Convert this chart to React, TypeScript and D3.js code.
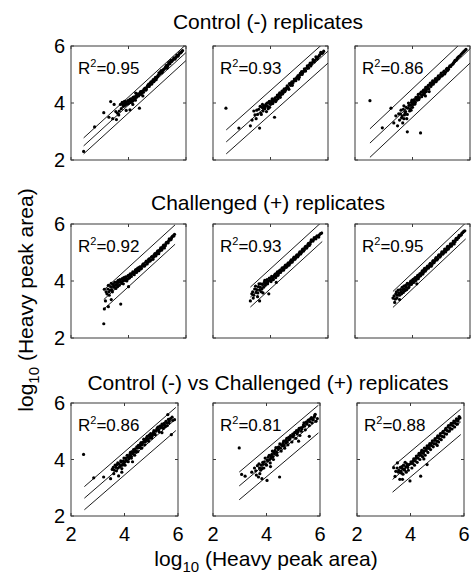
import * as d3 from 'd3'

// Replicate scatter data, log10 heavy peak area (x = replicate A, y = replicate B)
const ctrl1 = [
  [2.44, 2.30], [2.82, 3.16], [3.14, 3.66], [3.32, 3.50], [3.38, 4.05], [3.45, 3.45], [3.50, 3.95],
  [3.58, 3.42], [3.62, 3.64], [3.68, 3.72], [3.72, 3.95], [3.75, 3.80], [3.78, 4.02], [3.82, 3.88],
  [3.85, 3.98], [3.88, 3.92], [3.90, 4.05], [3.92, 3.74], [3.95, 3.96], [3.98, 4.08], [4.00, 3.98],
  [4.03, 4.10], [4.05, 3.76], [4.08, 4.02], [4.10, 4.15], [4.14, 4.06], [4.18, 4.12], [4.20, 4.22],
  [4.24, 4.10], [4.28, 4.20], [4.30, 4.28], [4.35, 4.25], [4.38, 3.82], [4.40, 4.35], [4.44, 4.30],
  [4.48, 4.42], [4.52, 4.38], [4.55, 4.50], [4.60, 4.45], [4.64, 4.55], [4.68, 4.62], [4.72, 4.58],
  [4.76, 4.70], [4.80, 4.66], [4.84, 4.78], [4.88, 4.75], [4.92, 4.85], [4.96, 4.82], [5.00, 4.92],
  [5.04, 4.98], [5.08, 5.02], [5.12, 5.10], [5.16, 5.06], [5.20, 5.15], [5.25, 5.20], [5.30, 5.28],
  [5.34, 5.22], [5.38, 5.35], [5.42, 5.38], [5.46, 5.44], [5.50, 5.46], [5.55, 5.52], [5.60, 5.56],
  [5.65, 5.60], [5.70, 5.66], [5.75, 5.70], [5.82, 5.76], [5.88, 5.84],
]
const ctrl1b = [
  [3.80, 3.95], [3.86, 4.06], [3.93, 4.00], [4.01, 4.06], [4.06, 4.14], [4.12, 4.08], [4.16, 4.20],
  [4.22, 4.16], [4.27, 4.26], [4.33, 4.32], [4.37, 4.28], [4.42, 4.40], [4.47, 4.36], [4.53, 4.46],
  [4.58, 4.52], [4.62, 4.48], [4.66, 4.60], [4.70, 4.66], [4.74, 4.64], [4.78, 4.74], [4.82, 4.70],
  [4.86, 4.82], [4.90, 4.78], [4.94, 4.90], [4.98, 4.88], [5.02, 4.95], [5.06, 5.06], [5.10, 5.04],
  [5.14, 5.14], [5.18, 5.10], [5.22, 5.18], [5.28, 5.24], [5.32, 5.32], [5.36, 5.28], [5.40, 5.42],
  [5.44, 5.38], [5.48, 5.50], [5.52, 5.48], [5.58, 5.58], [5.62, 5.54], [5.68, 5.68], [5.72, 5.64],
  [5.78, 5.76], [5.85, 5.80], [3.66, 3.58], [3.56, 3.70], [4.15, 3.95], [4.50, 4.25], [4.25, 4.35],
]
const ctrl2 = [
  [2.45, 3.82], [2.90, 3.12], [3.30, 3.20], [3.36, 3.40], [3.42, 3.72], [3.50, 3.45], [3.55, 3.60],
  [3.59, 3.78], [3.62, 3.12], [3.66, 3.65], [3.70, 3.85], [3.74, 3.72], [3.78, 3.90], [3.80, 3.80],
  [3.84, 3.95], [3.86, 3.70], [3.90, 3.88], [3.94, 4.02], [3.97, 3.85], [4.00, 3.95], [4.04, 4.08],
  [4.08, 3.98], [4.12, 4.12], [4.14, 3.50], [4.18, 4.05], [4.22, 4.22], [4.26, 4.15], [4.30, 4.30],
  [4.34, 4.20], [4.38, 4.36], [4.42, 4.32], [4.46, 4.45], [4.50, 4.40], [4.55, 4.52], [4.60, 4.56],
  [4.64, 4.48], [4.68, 4.64], [4.72, 4.70], [4.76, 4.62], [4.80, 4.76], [4.85, 4.80], [4.90, 4.86],
  [4.94, 4.92], [4.98, 4.84], [5.02, 4.98], [5.06, 5.05], [5.10, 5.00], [5.15, 5.12], [5.20, 5.15],
  [5.25, 5.22], [5.30, 5.26], [5.35, 5.34], [5.40, 5.30], [5.45, 5.42], [5.50, 5.48], [5.55, 5.50],
  [5.60, 5.58], [5.66, 5.62], [5.72, 5.70], [5.78, 5.74], [5.85, 5.82],
]
const ctrl2b = [
  [3.46, 3.58], [3.52, 3.75], [3.64, 3.88], [3.68, 3.60], [3.72, 3.95], [3.76, 3.82], [3.82, 3.88],
  [3.88, 4.00], [3.92, 3.80], [3.96, 4.06], [4.02, 4.00], [4.06, 4.15], [4.10, 4.05], [4.16, 4.18],
  [4.20, 4.10], [4.24, 4.28], [4.28, 4.22], [4.32, 4.36], [4.36, 4.28], [4.40, 4.42], [4.44, 4.36],
  [4.48, 4.50], [4.53, 4.46], [4.58, 4.60], [4.62, 4.52], [4.66, 4.68], [4.70, 4.62], [4.74, 4.74],
  [4.78, 4.70], [4.83, 4.84], [4.88, 4.78], [4.92, 4.90], [4.96, 4.96], [5.00, 4.90], [5.04, 5.04],
  [5.08, 5.10], [5.12, 5.06], [5.18, 5.20], [5.22, 5.12], [5.28, 5.30], [5.32, 5.22], [5.38, 5.40],
  [5.42, 5.36], [5.48, 5.52], [5.52, 5.44], [5.58, 5.62], [5.63, 5.55], [5.70, 5.66], [5.75, 5.78],
  [5.82, 5.76],
]
const ctrl3 = [
  [2.52, 4.08], [2.95, 3.13], [3.25, 3.82], [3.35, 3.30], [3.42, 3.55], [3.48, 3.20], [3.52, 3.62],
  [3.55, 3.40], [3.60, 3.75], [3.62, 3.48], [3.66, 3.30], [3.70, 3.90], [3.72, 3.58], [3.76, 3.70],
  [3.80, 3.45], [3.82, 2.99], [3.84, 3.82], [3.86, 4.00], [3.90, 3.72], [3.94, 3.92], [3.98, 4.10],
  [4.00, 3.85], [4.04, 4.05], [4.08, 3.96], [4.12, 4.20], [4.16, 4.10], [4.20, 4.30], [4.24, 4.18],
  [4.28, 2.95], [4.30, 4.38], [4.34, 4.28], [4.38, 4.45], [4.42, 4.36], [4.46, 4.55], [4.50, 4.48],
  [4.55, 4.62], [4.58, 4.40], [4.62, 4.70], [4.66, 4.64], [4.70, 4.78], [4.75, 4.72], [4.80, 4.86],
  [4.85, 4.80], [4.90, 4.95], [4.95, 4.90], [5.00, 5.05], [5.05, 4.98], [5.10, 5.12], [5.15, 5.08],
  [5.20, 5.22], [5.25, 5.18], [5.30, 5.30], [5.36, 5.34], [5.42, 5.40], [5.48, 5.50], [5.55, 5.56],
  [5.62, 5.64], [5.70, 5.72], [5.78, 5.80], [5.86, 5.88],
]
const ctrl3b = [
  [3.58, 3.62], [3.64, 3.55], [3.68, 3.78], [3.74, 3.65], [3.78, 3.85], [3.82, 3.60], [3.88, 3.92],
  [3.92, 3.80], [3.96, 4.02], [4.02, 3.95], [4.06, 4.12], [4.10, 4.02], [4.14, 4.15], [4.18, 4.22],
  [4.22, 4.12], [4.26, 4.32], [4.32, 4.22], [4.36, 4.40], [4.40, 4.30], [4.44, 4.48], [4.48, 4.40],
  [4.52, 4.56], [4.57, 4.50], [4.60, 4.65], [4.64, 4.58], [4.68, 4.72], [4.72, 4.66], [4.78, 4.80],
  [4.82, 4.75], [4.88, 4.90], [4.92, 4.85], [4.98, 5.00], [5.02, 4.95], [5.08, 5.08], [5.12, 5.02],
  [5.18, 5.18], [5.22, 5.14], [5.28, 5.26], [5.33, 5.28], [5.40, 5.36], [5.45, 5.44], [5.52, 5.50],
  [5.58, 5.60], [5.66, 5.66], [5.74, 5.76], [5.82, 5.84], [3.95, 3.75], [4.45, 4.25], [3.70, 3.45],
]
const chal1 = [
  [3.14, 2.50], [3.16, 3.71], [3.16, 3.02], [3.20, 3.30], [3.25, 3.55], [3.30, 3.85], [3.33, 3.50],
  [3.36, 3.68], [3.40, 3.92], [3.44, 3.62], [3.48, 3.80], [3.52, 3.95], [3.56, 3.74], [3.60, 3.88],
  [3.64, 4.02], [3.68, 3.85], [3.73, 3.19], [3.74, 3.98], [3.78, 4.08], [3.82, 3.90], [3.86, 4.05],
  [3.90, 4.15], [3.94, 4.00], [3.98, 4.18], [4.02, 4.10], [4.06, 4.25], [4.10, 4.16], [4.15, 4.32],
  [4.20, 4.22], [4.24, 4.38], [4.28, 4.30], [4.32, 4.45], [4.36, 4.36], [4.40, 4.50], [4.45, 4.44],
  [4.50, 4.58], [4.55, 4.52], [4.60, 4.66], [4.65, 4.60], [4.70, 4.75], [4.75, 4.70], [4.80, 4.84],
  [4.85, 4.76], [4.90, 4.92], [4.95, 4.88], [5.00, 5.02], [5.05, 4.96], [5.10, 5.10], [5.15, 5.08],
  [5.20, 5.22], [5.25, 5.16], [5.30, 5.30], [5.35, 5.36], [5.40, 5.42], [5.45, 5.44], [5.50, 5.52],
  [5.55, 5.58], [5.60, 5.64],
]
const chal1b = [
  [3.22, 3.62], [3.28, 3.72], [3.32, 3.62], [3.38, 3.80], [3.42, 3.70], [3.46, 3.88], [3.50, 3.78],
  [3.54, 3.85], [3.58, 3.96], [3.62, 3.80], [3.66, 3.95], [3.70, 4.05], [3.76, 3.92], [3.80, 4.00],
  [3.84, 4.12], [3.88, 4.02], [3.92, 4.10], [3.96, 4.06], [4.00, 4.20], [4.04, 4.12], [4.08, 4.20],
  [4.12, 4.26], [4.18, 4.28], [4.22, 4.30], [4.26, 4.40], [4.30, 4.36], [4.35, 4.42], [4.38, 4.48],
  [4.42, 4.42], [4.48, 4.52], [4.52, 4.60], [4.58, 4.56], [4.62, 4.70], [4.68, 4.66], [4.72, 4.78],
  [4.78, 4.74], [4.82, 4.86], [4.88, 4.84], [4.92, 4.96], [4.98, 4.94], [5.02, 5.06], [5.08, 5.04],
  [5.12, 5.16], [5.18, 5.14], [5.22, 5.26], [5.28, 5.24], [5.32, 5.36], [5.38, 5.34], [5.42, 5.48],
  [5.48, 5.46], [5.52, 5.56], [5.58, 5.58], [3.30, 3.10], [3.40, 3.35], [4.00, 3.80],
]
const chal2 = [
  [3.30, 3.30], [3.35, 3.55], [3.40, 3.40], [3.45, 3.72], [3.50, 3.60], [3.55, 3.45], [3.58, 3.80],
  [3.62, 3.68], [3.66, 3.90], [3.70, 3.72], [3.74, 3.58], [3.78, 3.95], [3.82, 3.85], [3.86, 4.02],
  [3.90, 3.90], [3.94, 3.55], [3.98, 4.08], [4.02, 3.98], [4.06, 4.12], [4.10, 4.05], [4.14, 4.20],
  [4.18, 4.12], [4.22, 4.28], [4.26, 4.20], [4.30, 4.35], [4.35, 4.30], [4.40, 4.45], [4.45, 4.38],
  [4.50, 4.52], [4.55, 4.48], [4.60, 4.60], [4.65, 4.56], [4.70, 4.70], [4.75, 4.66], [4.80, 4.80],
  [4.85, 4.76], [4.90, 4.88], [4.95, 4.85], [5.00, 4.98], [5.05, 4.95], [5.10, 5.08], [5.15, 5.05],
  [5.20, 5.18], [5.25, 5.15], [5.30, 5.28], [5.35, 5.25], [5.40, 5.38], [5.45, 5.42], [5.50, 5.46],
  [5.55, 5.50], [5.60, 5.55], [5.65, 5.56], [5.70, 5.62], [5.78, 5.68],
]
const chal2b = [
  [3.38, 3.62], [3.42, 3.50], [3.48, 3.82], [3.52, 3.70], [3.56, 3.58], [3.60, 3.90], [3.64, 3.78],
  [3.68, 3.62], [3.72, 3.88], [3.76, 3.78], [3.80, 4.02], [3.84, 3.92], [3.88, 4.05], [3.92, 3.98],
  [3.96, 4.10], [4.00, 4.02], [4.04, 4.16], [4.08, 4.06], [4.12, 4.14], [4.16, 4.24], [4.20, 4.18],
  [4.24, 4.32], [4.28, 4.26], [4.33, 4.38], [4.38, 4.36], [4.42, 4.46], [4.48, 4.44], [4.52, 4.56],
  [4.58, 4.52], [4.62, 4.64], [4.68, 4.62], [4.72, 4.74], [4.78, 4.72], [4.82, 4.84], [4.88, 4.82],
  [4.92, 4.92], [4.98, 4.90], [5.02, 5.02], [5.08, 5.00], [5.12, 5.12], [5.18, 5.10], [5.22, 5.22],
  [5.28, 5.20], [5.32, 5.32], [5.38, 5.30], [5.42, 5.44], [5.48, 5.40], [5.52, 5.52], [5.58, 5.48],
  [5.62, 5.58], [5.68, 5.54], [5.74, 5.66], [3.62, 3.30], [4.20, 3.95],
]
const chal3 = [
  [3.32, 3.40], [3.38, 3.25], [3.42, 3.55], [3.46, 3.40], [3.50, 3.68], [3.55, 3.50], [3.60, 3.62],
  [3.64, 3.78], [3.68, 3.60], [3.72, 3.72], [3.76, 3.85], [3.80, 3.70], [3.84, 3.90], [3.88, 3.80],
  [3.92, 3.95], [3.96, 3.88], [4.00, 4.02], [4.04, 3.95], [4.08, 4.10], [4.12, 4.02], [4.16, 4.15],
  [4.20, 4.08], [4.24, 4.22], [4.28, 4.18], [4.32, 4.30], [4.36, 4.25], [4.40, 4.40], [4.45, 4.35],
  [4.50, 4.48], [4.55, 4.45], [4.60, 4.58], [4.65, 4.52], [4.70, 4.68], [4.75, 4.64], [4.80, 4.78],
  [4.85, 4.74], [4.90, 4.88], [4.95, 4.84], [5.00, 4.96], [5.05, 4.94], [5.10, 5.06], [5.15, 5.02],
  [5.20, 5.16], [5.25, 5.12], [5.30, 5.24], [5.35, 5.22], [5.40, 5.34], [5.45, 5.30], [5.50, 5.44],
  [5.55, 5.46], [5.60, 5.52], [5.65, 5.58], [5.70, 5.62], [5.75, 5.70], [5.82, 5.76],
]
const chal3b = [
  [3.36, 3.48], [3.40, 3.36], [3.44, 3.62], [3.48, 3.50], [3.52, 3.58], [3.58, 3.70], [3.62, 3.55],
  [3.66, 3.70], [3.70, 3.82], [3.74, 3.66], [3.78, 3.78], [3.82, 3.92], [3.86, 3.76], [3.90, 3.88],
  [3.94, 4.00], [3.98, 3.92], [4.02, 4.06], [4.06, 3.98], [4.10, 4.12], [4.14, 4.08], [4.18, 4.20],
  [4.22, 4.14], [4.26, 4.26], [4.30, 4.22], [4.34, 4.36], [4.38, 4.30], [4.42, 4.44], [4.48, 4.40],
  [4.52, 4.52], [4.58, 4.50], [4.62, 4.62], [4.68, 4.58], [4.72, 4.72], [4.78, 4.70], [4.82, 4.82],
  [4.88, 4.78], [4.92, 4.92], [4.98, 4.88], [5.02, 5.02], [5.08, 4.98], [5.12, 5.12], [5.18, 5.08],
  [5.22, 5.22], [5.28, 5.18], [5.32, 5.30], [5.38, 5.28], [5.42, 5.40], [5.48, 5.38], [5.52, 5.50],
  [5.58, 5.52], [5.62, 5.60], [5.68, 5.62], [5.72, 5.68], [5.78, 5.74], [4.15, 3.90], [3.55, 3.35],
]
const vs1 = [
  [2.47, 4.18], [2.85, 3.35], [3.22, 3.38], [3.48, 3.32], [3.54, 3.65], [3.60, 3.50], [3.65, 3.80],
  [3.70, 3.60], [3.75, 3.88], [3.78, 3.42], [3.82, 3.75], [3.86, 3.95], [3.90, 3.68], [3.94, 3.85],
  [3.98, 4.05], [4.02, 3.80], [4.06, 3.98], [4.10, 4.15], [4.14, 3.92], [4.18, 4.10], [4.22, 4.25],
  [4.26, 4.05], [4.30, 4.20], [4.34, 4.35], [4.38, 4.15], [4.42, 4.30], [4.46, 4.45], [4.50, 4.28],
  [4.55, 4.42], [4.60, 4.55], [4.64, 4.40], [4.68, 4.60], [4.72, 4.72], [4.76, 4.52], [4.80, 4.68],
  [4.85, 4.82], [4.90, 4.65], [4.94, 4.80], [4.98, 4.92], [5.02, 4.76], [5.06, 4.90], [5.10, 5.02],
  [5.15, 4.88], [5.20, 5.05], [5.25, 5.15], [5.30, 4.98], [5.35, 5.12], [5.40, 5.25], [5.45, 5.10],
  [5.50, 5.22], [5.55, 5.35], [5.60, 5.20], [5.62, 5.59], [5.66, 5.30], [5.72, 5.45], [5.75, 4.88],
  [5.80, 5.38], [5.87, 5.41],
]
const vs1b = [
  [3.58, 3.72], [3.62, 3.62], [3.68, 3.72], [3.72, 3.82], [3.76, 3.70], [3.80, 3.85], [3.84, 3.78],
  [3.88, 3.92], [3.92, 3.80], [3.96, 3.95], [4.00, 3.90], [4.04, 4.05], [4.08, 3.95], [4.12, 4.08],
  [4.16, 4.02], [4.20, 4.18], [4.24, 4.12], [4.28, 4.28], [4.32, 4.22], [4.36, 4.28], [4.40, 4.38],
  [4.44, 4.26], [4.48, 4.40], [4.52, 4.50], [4.58, 4.48], [4.62, 4.60], [4.66, 4.52], [4.70, 4.62],
  [4.74, 4.70], [4.78, 4.62], [4.82, 4.76], [4.88, 4.72], [4.92, 4.86], [4.96, 4.76], [5.00, 4.88],
  [5.04, 4.84], [5.08, 4.96], [5.12, 4.92], [5.18, 5.00], [5.22, 5.10], [5.28, 5.06], [5.32, 5.18],
  [5.38, 5.16], [5.42, 5.20], [5.48, 5.28], [5.52, 5.16], [5.58, 5.30], [5.64, 5.42], [5.68, 5.36],
  [5.78, 5.50], [4.30, 3.92], [3.90, 3.55], [5.40, 4.95],
]
const vs2 = [
  [2.98, 4.41], [3.07, 3.47], [3.20, 3.41], [3.45, 3.55], [3.55, 3.70], [3.62, 3.45], [3.70, 3.38],
  [3.72, 3.85], [3.78, 3.62], [3.83, 3.32], [3.86, 3.90], [3.90, 3.70], [3.95, 4.05], [4.00, 3.80],
  [4.02, 3.26], [4.05, 3.95], [4.10, 4.15], [4.14, 3.88], [4.18, 4.05], [4.22, 4.30], [4.26, 4.00],
  [4.30, 4.20], [4.35, 4.42], [4.40, 4.15], [4.44, 4.35], [4.49, 3.38], [4.50, 4.55], [4.55, 4.30],
  [4.60, 4.48], [4.64, 4.65], [4.68, 4.40], [4.72, 4.58], [4.76, 4.75], [4.80, 4.52], [4.85, 4.70],
  [4.90, 4.85], [4.95, 4.62], [5.00, 4.80], [5.05, 4.95], [5.10, 4.75], [5.15, 4.90], [5.20, 5.05],
  [5.25, 4.85], [5.30, 5.00], [5.35, 5.15], [5.40, 5.30], [5.45, 5.05], [5.50, 5.25], [5.55, 5.38],
  [5.60, 5.20], [5.65, 5.45], [5.70, 5.30], [5.75, 5.40], [5.80, 5.55], [5.85, 5.35], [5.90, 5.45],
  [5.60, 4.82],
]
const vs2b = [
  [3.60, 3.60], [3.66, 3.78], [3.74, 3.70], [3.80, 3.80], [3.84, 3.68], [3.88, 3.85], [3.92, 3.92],
  [3.98, 3.82], [4.02, 3.98], [4.06, 4.08], [4.12, 4.00], [4.16, 4.12], [4.20, 4.18], [4.24, 4.10],
  [4.28, 4.26], [4.32, 4.32], [4.38, 4.25], [4.42, 4.42], [4.46, 4.45], [4.52, 4.40], [4.56, 4.52],
  [4.62, 4.58], [4.66, 4.50], [4.70, 4.66], [4.74, 4.68], [4.78, 4.62], [4.83, 4.78], [4.88, 4.74],
  [4.92, 4.82], [4.98, 4.90], [5.02, 4.86], [5.08, 4.96], [5.12, 5.02], [5.18, 4.98], [5.22, 5.10],
  [5.28, 5.12], [5.32, 5.08], [5.38, 5.22], [5.42, 5.18], [5.48, 5.32], [5.52, 5.30], [5.58, 5.40],
  [5.62, 5.34], [5.68, 5.48], [5.72, 5.42], [5.78, 5.50], [5.82, 5.60], [3.75, 3.50], [4.15, 3.75],
  [5.20, 4.65],
]
const vs3 = [
  [3.37, 3.71], [3.42, 3.40], [3.51, 3.88], [3.55, 3.55], [3.60, 3.30], [3.64, 3.59], [3.68, 3.75],
  [3.72, 3.48], [3.76, 3.65], [3.80, 3.90], [3.84, 3.55], [3.88, 3.78], [3.92, 3.62], [3.98, 3.24],
  [4.00, 3.85], [4.05, 3.70], [4.10, 3.95], [4.15, 3.80], [4.20, 4.05], [4.25, 3.90], [4.30, 4.15],
  [4.35, 4.00], [4.38, 3.41], [4.40, 4.25], [4.45, 4.10], [4.50, 4.30], [4.55, 4.15], [4.60, 4.40],
  [4.62, 3.82], [4.65, 4.25], [4.70, 4.50], [4.75, 4.35], [4.80, 4.60], [4.85, 4.45], [4.90, 4.68],
  [4.95, 4.55], [5.00, 4.78], [5.05, 4.62], [5.10, 4.85], [5.15, 4.70], [5.20, 4.95], [5.25, 4.80],
  [5.30, 5.05], [5.35, 4.90], [5.40, 5.15], [5.45, 5.00], [5.50, 5.22], [5.55, 5.08], [5.60, 5.30],
  [5.65, 5.15], [5.70, 5.38], [5.75, 5.25], [5.80, 5.45], [5.85, 5.47],
]
const vs3b = [
  [3.45, 3.58], [3.50, 3.70], [3.56, 3.62], [3.62, 3.72], [3.66, 3.52], [3.70, 3.68], [3.74, 3.80],
  [3.78, 3.62], [3.82, 3.74], [3.86, 3.85], [3.90, 3.72], [3.94, 3.82], [4.02, 3.92], [4.08, 3.86],
  [4.12, 4.02], [4.18, 3.95], [4.22, 4.12], [4.28, 4.05], [4.32, 4.22], [4.38, 4.15], [4.42, 4.32],
  [4.48, 4.22], [4.52, 4.40], [4.58, 4.32], [4.62, 4.48], [4.68, 4.40], [4.72, 4.56], [4.78, 4.50],
  [4.82, 4.66], [4.88, 4.56], [4.92, 4.74], [4.98, 4.66], [5.02, 4.84], [5.08, 4.74], [5.12, 4.92],
  [5.18, 4.82], [5.22, 5.00], [5.28, 4.92], [5.32, 5.10], [5.38, 5.02], [5.42, 5.20], [5.48, 5.10],
  [5.52, 5.28], [5.58, 5.20], [5.62, 5.36], [5.68, 5.28], [5.72, 5.44], [5.78, 5.36], [5.82, 5.52],
  [3.70, 3.30], [4.50, 4.02], [5.00, 4.50],
]

const rowTitles = ['Control (-) replicates', 'Challenged (+) replicates', 'Control (-) vs Challenged (+) replicates']
const rowData = [
  [ctrl1.concat(ctrl1b), ctrl2.concat(ctrl2b), ctrl3.concat(ctrl3b)],
  [chal1.concat(chal1b), chal2.concat(chal2b), chal3.concat(chal3b)],
  [vs1.concat(vs1b), vs2.concat(vs2b), vs3.concat(vs3b)],
]
const rowR2 = [['0.95', '0.93', '0.86'], ['0.92', '0.93', '0.95'], ['0.86', '0.81', '0.88']]

// fitted line + band: slope, intercept, half-width, x start, x end
const fitSlope = [[0.92, 0.9, 0.95], [0.92, 0.92, 0.95], [0.82, 0.8, 0.8]]
const fitIntercept = [[0.25, 0.42, 0.2], [0.46, 0.4, 0.2], [0.58, 0.68, 0.63]]
const fitBand = [[0.28, 0.42, 0.5], [0.34, 0.35, 0.28], [0.41, 0.49, 0.45]]
const fitFrom = [[2.44, 2.46, 2.52], [3.14, 3.3, 3.32], [2.5, 2.98, 3.33]]
const fitTo = [[6.2, 6.2, 6.2], [5.62, 5.8, 5.85], [5.92, 5.94, 5.88]]

const ticks = [2, 4, 6]

// layout (px)
const rowTop = [46, 224, 403]
const rowH = [114, 114, 113]
const rowW = [115, 115, 107]
const colLeft = [[71, 213, 355], [71, 213, 355], [71, 213, 357]]
const titleY = [29, 210, 390]

const font = '"Liberation Sans", Arial, Helvetica, sans-serif'
const ink = '#000'
const boxColor = '#3a3a3a'

function Panel({ row, col }: { row: number; col: number }) {
  const x0 = colLeft[row][col]
  const y0 = rowTop[row]
  const w = rowW[row]
  const h = rowH[row]
  const x = d3.scaleLinear().domain([2, 6]).range([0, w])
  const y = d3.scaleLinear().domain([2, 6]).range([h, 0])
  const pts = rowData[row][col]
  const m = fitSlope[row][col]
  const b = fitIntercept[row][col]
  const dd = fitBand[row][col]
  const xs = [fitFrom[row][col], fitTo[row][col]]
  const line = d3.line<number>().x((v) => x(v))
  const clipId = `clip-${row}-${col}`

  return (
    <g transform={`translate(${x0},${y0})`}>
      <defs>
        <clipPath id={clipId}>
          <rect x={0} y={0} width={w} height={h} />
        </clipPath>
      </defs>
      <g clipPath={`url(#${clipId})`}>
        {[-1, 0, 1].map((k) => (
          <path
            key={k}
            d={line.y((v) => y(m * v + b + k * dd))(xs) || ''}
            fill="none"
            stroke={ink}
            strokeWidth={0.9}
          />
        ))}
        {pts.map((p, i) => (
          <circle key={i} cx={x(p[0])} cy={y(p[1])} r={1.6} fill={ink} />
        ))}
      </g>
      {/* inward ticks on all sides */}
      {ticks.map((t) => (
        <g key={t} stroke={boxColor} strokeWidth={1}>
          <line x1={x(t)} x2={x(t)} y1={h} y2={h - 3} />
          <line x1={x(t)} x2={x(t)} y1={0} y2={3} />
          <line x1={0} x2={3} y1={y(t)} y2={y(t)} />
          <line x1={w} x2={w - 3} y1={y(t)} y2={y(t)} />
        </g>
      ))}
      <rect x={0} y={0} width={w} height={h} fill="none" stroke={boxColor} strokeWidth={1} />
      <text x={7} y={28} fontSize={17} fill={ink}>
        R<tspan fontSize={11} dy={-7}>2</tspan>
        <tspan dy={7}>={rowR2[row][col]}</tspan>
      </text>
      {col === 0 &&
        ticks.map((t) => (
          <text key={t} x={-6} y={y(t)} dy="0.36em" textAnchor="end" fontSize={20} fill={ink}>
            {t}
          </text>
        ))}
      {row === 2 &&
        ticks.map((t) => (
          <text key={t} x={x(t)} y={h + 25} textAnchor="middle" fontSize={20} fill={ink}>
            {t}
          </text>
        ))}
    </g>
  )
}

export default function App() {
  return (
    <svg
      width={471}
      height={575}
      style={{ position: 'absolute', left: 0, top: 0, background: '#fff' }}
      fontFamily={font}
    >
      <rect width={471} height={575} fill="#fff" />
      {rowTitles.map((t, r) => (
        <text key={t} x={268} y={titleY[r]} textAnchor="middle" fontSize={21} fill={ink}>
          {t}
        </text>
      ))}
      {[0, 1, 2].map((r) => [0, 1, 2].map((c) => <Panel key={`${r}-${c}`} row={r} col={c} />))}
      <text x={266} y={566} textAnchor="middle" fontSize={21} fill={ink}>
        log<tspan fontSize={15} dy={6}>10</tspan>
        <tspan dy={-6}> (Heavy peak area)</tspan>
      </text>
      <text
        transform="translate(33,300) rotate(-90)"
        textAnchor="middle"
        fontSize={21}
        fill={ink}
      >
        log<tspan fontSize={15} dy={6}>10</tspan>
        <tspan dy={-6}> (Heavy peak area)</tspan>
      </text>
    </svg>
  )
}
